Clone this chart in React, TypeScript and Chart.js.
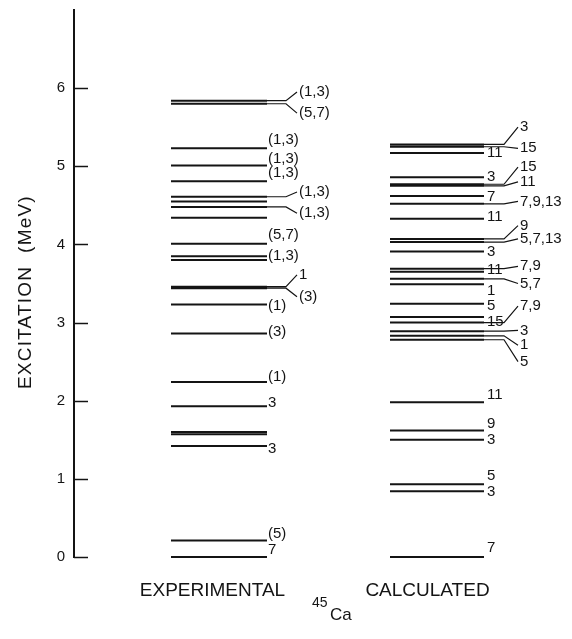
import React, { useEffect, useRef } from 'react';
import { Chart, registerables } from 'chart.js';

Chart.register(...registerables);

// ---------- data (MeV) ----------
const yTickValues = [0, 1, 2, 3, 4, 5, 6];

const expLevels = [0, 0.21, 1.42, 1.57, 1.6, 1.93, 2.24, 2.86, 3.23, 3.44, 3.46, 3.8, 3.85, 4.01, 4.34, 4.48, 4.55, 4.61, 4.81, 5.01, 5.23, 5.8, 5.84];
const expLabelText = ['7', '(5)', '3', '3', '(1)', '(3)', '(1)', '(3)', '1', '(1,3)', '(5,7)', '(1,3)', '(1,3)', '(1,3)', '(1,3)', '(1,3)', '(5,7)', '(1,3)'];
const expLabelLevel = [0, 0.21, 1.42, 1.93, 2.24, 2.86, 3.23, 3.44, 3.46, 3.85, 4.01, 4.48, 4.61, 4.81, 5.01, 5.23, 5.8, 5.84];
const expLabelY = [0.09, 0.29, 1.39, 1.97, 2.31, 2.88, 3.22, 3.33, 3.61, 3.86, 4.12, 4.4, 4.67, 4.91, 5.1, 5.34, 5.68, 5.95];
const expLabelShifted = [false, false, false, false, false, false, false, true, true, false, false, true, true, false, false, false, true, true];

const calcLevels = [0, 0.84, 0.93, 1.5, 1.62, 1.98, 2.78, 2.83, 2.89, 3.0, 3.07, 3.24, 3.49, 3.56, 3.65, 3.69, 3.91, 4.03, 4.07, 4.33, 4.52, 4.62, 4.75, 4.77, 4.86, 5.17, 5.25, 5.28];
const calcLabelText = ['7', '3', '5', '3', '9', '11', '5', '1', '3', '7,9', '15', '5', '1', '5,7', '11', '7,9', '3', '5,7,13', '9', '11', '7,9,13', '7', '11', '15', '3', '11', '15', '3'];
const calcLabelLevel = calcLevels;
const calcLabelY = [0.12, 0.83, 1.04, 1.5, 1.71, 2.07, 2.5, 2.71, 2.9, 3.21, 3.01, 3.21, 3.41, 3.5, 3.68, 3.72, 3.9, 4.07, 4.24, 4.35, 4.55, 4.61, 4.8, 4.99, 4.87, 5.17, 5.23, 5.5];
const calcLabelShifted = [false, false, false, false, false, false, true, true, true, true, false, false, false, true, false, true, false, true, true, false, true, false, true, true, false, false, true, true];

const columnTitles = ['EXPERIMENTAL', 'CALCULATED'];
const axisTitle = 'EXCITATION  (MeV)';
const nucleusMass = '45';
const nucleusSymbol = 'Ca';

// ---------- layout (pixels, x scale is pixel-like) ----------
const W = 572;
const H = 639;
const FONT = "'Liberation Sans', Arial, sans-serif";
const INK = '#141414';
const expCol = { x0: 171, x1: 267, labelX: 268, bendX: 286, shiftX: 299 };
const calcCol = { x0: 390, x1: 484, labelX: 487, bendX: 504, shiftX: 520 };

function levelData(levels: number[], col: typeof expCol) {
  const pts: { x: number; y: number | null }[] = [];
  levels.forEach((e) => {
    pts.push({ x: col.x0, y: e }, { x: col.x1, y: e }, { x: col.x1, y: null });
  });
  return pts;
}

function connectorData(lvl: number[], ly: number[], shifted: boolean[], col: typeof expCol) {
  const pts: { x: number; y: number | null }[] = [];
  lvl.forEach((e, i) => {
    if (!shifted[i]) return;
    pts.push({ x: col.x1, y: e }, { x: col.bendX, y: e }, { x: col.shiftX - 2, y: ly[i] }, { x: col.shiftX - 2, y: null });
  });
  return pts;
}

const labelPlugin = {
  id: 'levelLabels',
  afterDraw(chart: any) {
    const { ctx, chartArea, scales } = chart;
    const ys = scales.y;
    ctx.save();
    // tick marks pointing inward
    ctx.strokeStyle = INK;
    ctx.lineWidth = 1.5;
    yTickValues.forEach((v) => {
      const py = Math.round(ys.getPixelForValue(v)) + 0.5;
      ctx.beginPath();
      ctx.moveTo(chartArea.left, py);
      ctx.lineTo(chartArea.left + 14, py);
      ctx.stroke();
    });
    // level labels
    ctx.fillStyle = INK;
    ctx.font = `15px ${FONT}`;
    ctx.textBaseline = 'middle';
    ctx.textAlign = 'left';
    const draw = (txt: string[], ly: number[], sh: boolean[], col: typeof expCol) => {
      txt.forEach((t, i) => {
        const x = sh[i] ? col.shiftX : col.labelX;
        ctx.fillText(t, x, ys.getPixelForValue(ly[i]));
      });
    };
    draw(expLabelText, expLabelY, expLabelShifted, expCol);
    draw(calcLabelText, calcLabelY, calcLabelShifted, calcCol);

    // axis title
    ctx.save();
    ctx.font = `19px ${FONT}`;
    (ctx as any).letterSpacing = '1.2px';
    ctx.textAlign = 'center';
    ctx.translate(26, ys.getPixelForValue(3.39));
    ctx.rotate(-Math.PI / 2);
    ctx.fillText(axisTitle, 0, 0);
    ctx.restore();

    // column titles
    ctx.font = `19px ${FONT}`;
    ctx.textAlign = 'center';
    ctx.fillText(columnTitles[0], 212.5, 591);
    ctx.fillText(columnTitles[1], 427.5, 591);
    // nucleus
    ctx.textAlign = 'left';
    ctx.font = `14px ${FONT}`;
    ctx.fillText(nucleusMass, 312, 603);
    ctx.font = `17px ${FONT}`;
    ctx.fillText(nucleusSymbol, 330, 615);
    ctx.restore();
  },
};

export default function App() {
  const ref = useRef<HTMLCanvasElement | null>(null);
  useEffect(() => {
    document.body.style.margin = '0';
    document.body.style.background = '#ffffff';
    const canvas = ref.current;
    if (!canvas) return;
    const lineDs = (data: any[], width: number) => ({
      data,
      showLine: true,
      borderColor: INK,
      borderWidth: width,
      pointRadius: 0,
      spanGaps: false,
      clip: false,
    });
    const chart = new Chart(canvas, {
      type: 'scatter',
      data: {
        datasets: [
          lineDs(levelData(expLevels, expCol), 2),
          lineDs(levelData(calcLevels, calcCol), 2),
          lineDs(connectorData(expLabelLevel, expLabelY, expLabelShifted, expCol), 1.2),
          lineDs(connectorData(calcLabelLevel, calcLabelY, calcLabelShifted, calcCol), 1.2),
        ],
      } as any,
      options: {
        responsive: false,
        animation: false,
        events: [],
        layout: { padding: { top: 10, bottom: H - 557, left: 0, right: 0 } },
        plugins: { legend: { display: false }, tooltip: { enabled: false } },
        scales: {
          x: { type: 'linear', min: 74, max: W, display: false },
          y: {
            type: 'linear',
            min: 0,
            max: 7,
            afterBuildTicks: (s: any) => {
              s.ticks = s.ticks.filter((t: any) => yTickValues.includes(t.value));
            },
            afterFit: (s: any) => {
              s.width = 74;
              s.paddingTop = 0;
              s.paddingBottom = 0;
            },
            border: { display: true, color: INK, width: 2 },
            grid: { drawOnChartArea: false, drawTicks: false },
            ticks: {
              stepSize: 1,
              padding: 9,
              color: INK,
              font: { size: 15, family: FONT },
              callback: (v: any) => String(v),
            },
          },
        },
      } as any,
      plugins: [labelPlugin],
    });
    return () => chart.destroy();
  }, []);
  return (
    <div style={{ width: W, height: H, background: '#fff' }}>
      <canvas ref={ref} width={W} height={H} style={{ display: 'block' }} />
    </div>
  );
}
